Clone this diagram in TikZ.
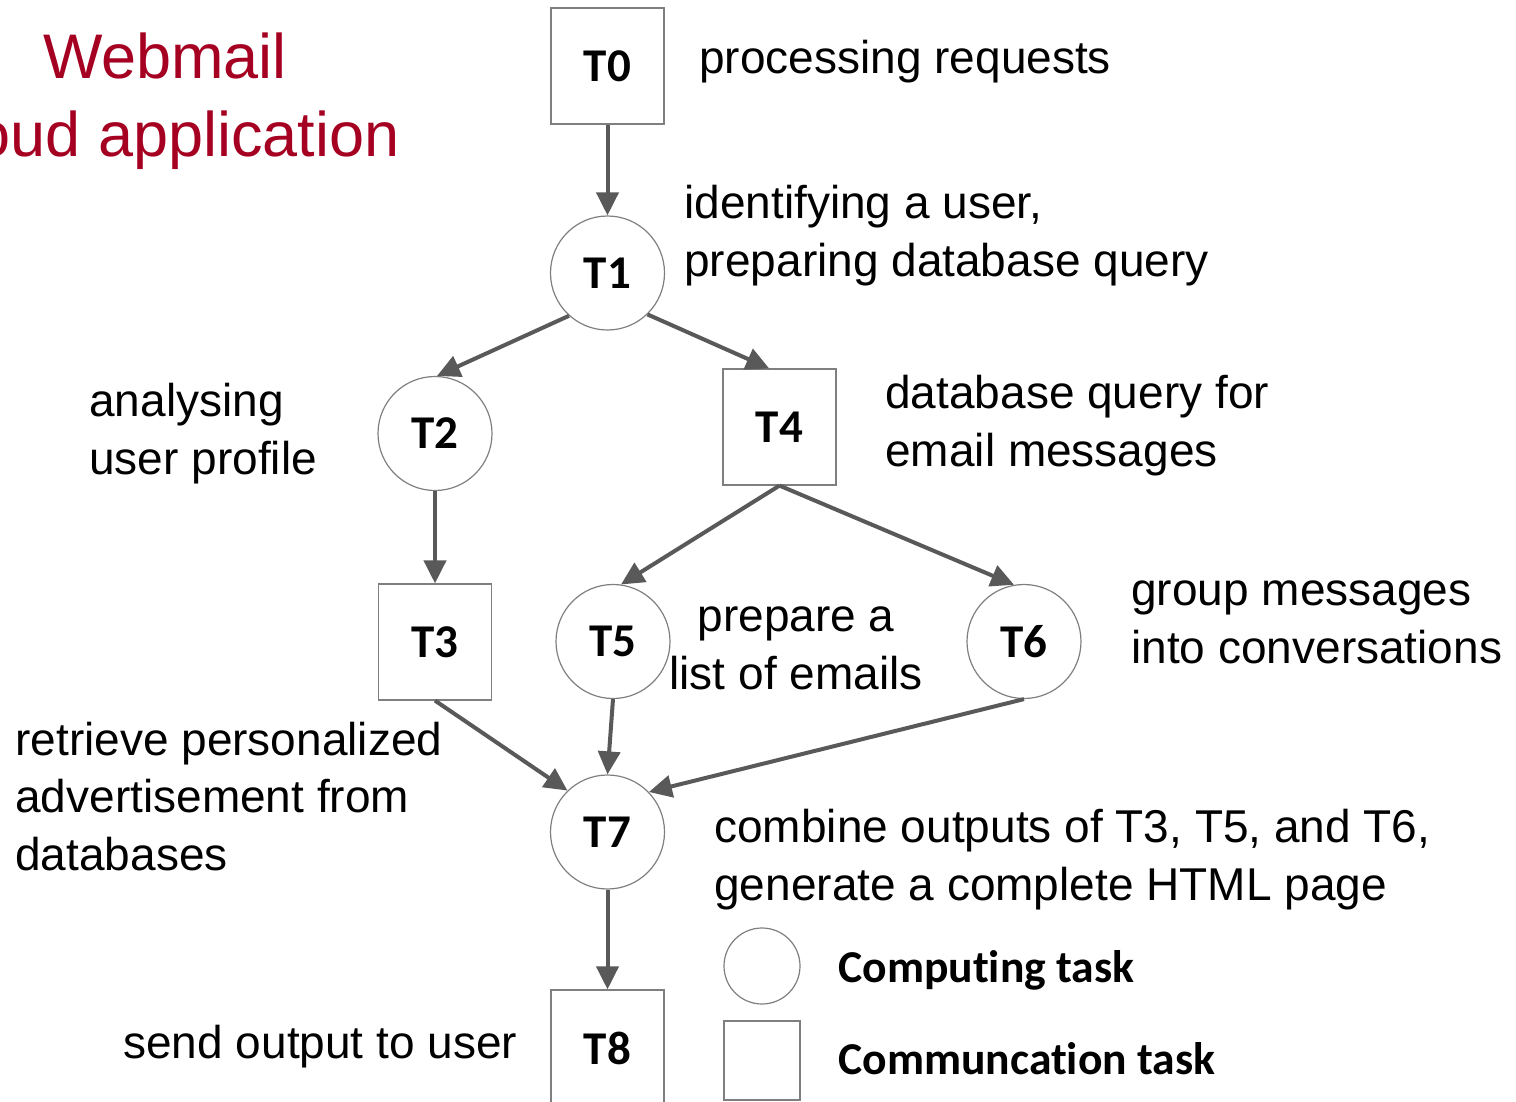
\documentclass[tikz,border=0pt]{standalone}
\usepackage{fontspec}
\setmainfont{Liberation Sans}
\newfontfamily\calibrifont[Ligatures=NoCommon]{Carlito}
\usetikzlibrary{arrows.meta}
\definecolor{titlered}{HTML}{A50021}
\definecolor{edgegray}{HTML}{595959}
\definecolor{bordergray}{HTML}{7F7F7F}
\tikzset{
  taskfont/.style={font=\calibrifont\bfseries\fontsize{23.5}{27}\selectfont},
  legfont/.style={font=\calibrifont\bfseries\fontsize{22.8}{27}\selectfont},
  comp/.style={circle, draw=bordergray, line width=0.6pt, minimum size=57pt, inner sep=0pt, taskfont},
  comm/.style={rectangle, draw=bordergray, line width=0.6pt, minimum width=56.5pt, minimum height=58pt, inner sep=0pt, taskfont},
  lbl/.style={inner sep=0pt, align=left, anchor=base west, font=\fontsize{23}{28.75}\selectfont},
  edge/.style={draw=edgegray, line width=2pt, -{Triangle[length=11.5pt,width=11pt]}},
}
\begin{document}
\begin{tikzpicture}[x=0.5pt,y=-0.5pt]
\useasboundingbox (0,0) rectangle (1516,1102);
\clip (0,0) rectangle (1516,1102);
% title (base = last line baseline)
\node[inner sep=0pt, align=center, anchor=base, text=titlered, font=\fontsize{31.5}{39}\selectfont] (title) at (165,156) {Webmail\\cloud application};
% task nodes
\node[comm] (T0) at (607.5,66) {T0};
\node[comp] (T1) at (607.5,273) {T1};
\node[comp] (T2) at (435,433.5) {T2};
\node[comm] (T4) at (779.5,427) {T4};
\node[comm] (T3) at (435,642) {T3};
\node[comp] (T5) at (613,641.5) {T5};
\node[comp] (T6) at (1024,641.5) {T6};
\node[comp] (T7) at (607.5,832) {T7};
\node[comm] (T8) at (607.5,1048) {T8};
% legend
\node[circle, draw=bordergray, line width=0.6pt, minimum size=38pt, inner sep=0pt] (legc) at (762,966) {};
\node[rectangle, draw=bordergray, line width=0.6pt, minimum width=38pt, minimum height=39.5pt, inner sep=0pt] (legs) at (762,1060.5) {};
\node[inner sep=0pt, anchor=base west, legfont] (legct) at (838,982) {Computing task};
\node[inner sep=0pt, anchor=base west, legfont] (legst) at (838,1074) {Communcation task};
% labels (base = last line baseline)
\node[lbl] (l0) at (699,74) {processing requests};
\node[lbl] (l1) at (684,276) {identifying a user,\\preparing database query};
\node[lbl] (l2) at (89,474) {analysing\\user profile};
\node[lbl] (l4) at (885,466) {database query for\\email messages};
\node[inner sep=0pt, align=center, anchor=base, font=\fontsize{23}{28.75}\selectfont] (l5) at (796,689) {prepare a\\list of emails};
\node[lbl] (l6) at (1131,663) {group messages\\into conversations};
\node[lbl] (l3) at (15,870) {retrieve personalized\\advertisement from\\databases};
\node[lbl] (l7) at (714,900) {combine outputs of T3, T5, and T6,\\generate a complete HTML page};
\node[lbl] (l8) at (123,1058) {send output to user};
% edges
\draw[edge] (T0.south) -- (T1.north);
\draw[edge] (T1.228) -- (T2.88);
\draw[edge] (T1.314) -- (T4.100);
\draw[edge] (T2.south) -- (T3.north);
\draw[edge] (T4.south) -- (T5.82);
\draw[edge] (T4.south) -- (T6.100);
\draw[edge] (T3.south) -- (T7.134);
\draw[edge] (T5.south) -- (T7.north);
\draw[edge] (T6.south) -- (T7.44);
\draw[edge] (T7.south) -- (T8.north);
\end{tikzpicture}
\end{document}
